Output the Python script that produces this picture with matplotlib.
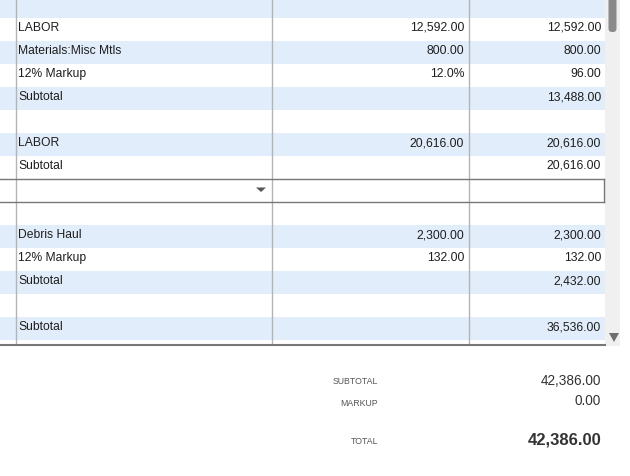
import matplotlib.pyplot as plt
from matplotlib.patches import Rectangle, FancyBboxPatch, Polygon

plt.rcParams['font.family'] = ['Arial', 'Liberation Sans', 'DejaVu Sans']

# table rows: description, quantity/rate column, amount column
descriptions = ["", "LABOR", "Materials:Misc Mtls", "12% Markup", "Subtotal", "",
                "LABOR", "Subtotal", "", "",
                "Debris Haul", "12% Markup", "Subtotal", "", "Subtotal"]
rates = ["", "12,592.00", "800.00", "12.0%", "", "",
         "20,616.00", "", "", "",
         "2,300.00", "132.00", "", "", ""]
amounts = ["", "12,592.00", "800.00", "96.00", "13,488.00", "",
           "20,616.00", "20,616.00", "", "",
           "2,300.00", "132.00", "2,432.00", "", "36,536.00"]
selected_row = 8

# totals block
total_labels = ["SUBTOTAL", "MARKUP", "TOTAL"]
total_values = ["42,386.00", "0.00", "42,386.00"]

W, H = 630, 476
fig = plt.figure(figsize=(W / 100, H / 100), dpi=100)
ax = fig.add_axes([0, 0, 1, 1])
ax.set_xlim(0, W)
ax.set_ylim(H, 0)
ax.axis("off")

row_h = 23
first_bottom = 18
table_right = 605
col_lines = [16, 272, 469]
stripe = "#e2edfb"
grid = "#b4b4b4"
text_col = "#1e1e1e"

for i, (d, r, a) in enumerate(zip(descriptions, rates, amounts)):
    top = first_bottom + (i - 1) * row_h
    if i % 2 == 0 and i != selected_row:
        ax.add_patch(Rectangle((0, top), table_right, row_h, color=stripe, lw=0))
    yc = top + row_h / 2 - 1.5
    ax.text(18, yc, d, fontsize=8.7, color=text_col, va="center", ha="left")
    ax.text(464, yc, r, fontsize=8.7, color=text_col, va="center", ha="right")
    ax.text(601, yc, a, fontsize=8.7, color=text_col, va="center", ha="right")

table_bottom = first_bottom + 14 * row_h
for x in col_lines:
    ax.plot([x, x], [0, table_bottom + 3], color=grid, lw=1)

# selected row border (top, bottom and right edge only)
sel_top = first_bottom + (selected_row - 1) * row_h
sel_bot = sel_top + row_h
ax.plot([0, table_right - 1], [sel_top, sel_top], color="#777777", lw=1)
ax.plot([0, table_right - 1], [sel_bot, sel_bot], color="#777777", lw=1)
ax.plot([table_right - 1, table_right - 1], [sel_top, sel_bot], color="#777777", lw=1)
ax.add_patch(Polygon([[256, sel_top + 8.5], [266, sel_top + 8.5], [261, sel_top + 13]],
                     color="#555555", lw=0))

# bottom border of table
ax.plot([0, table_right], [345, 345], color="#777777", lw=1.5)

# scrollbar
ax.add_patch(Rectangle((table_right, 0), 15, 346, color="#f0f0f0", lw=0))
ax.add_patch(FancyBboxPatch((608.5, -5), 8, 37, boxstyle="round,pad=0,rounding_size=3.5",
                            color="#8a8a8a", lw=0))
ax.add_patch(Polygon([[609, 333], [619, 333], [614, 342]], color="#6e6e6e", lw=0))

# totals
label_y = [382, 403, 441]
value_y = [381, 401, 440]
value_size = [9.8, 9.8, 12.0]
for lab, val, ly, vy, vs in zip(total_labels, total_values, label_y, value_y, value_size):
    ax.text(378, ly, lab, fontsize=6.3, color="#555555", ha="right", va="center")
    ax.text(601, vy, val, fontsize=vs, color="#333333", ha="right", va="center",
            fontweight="bold" if lab == "TOTAL" else "normal")

fig.savefig("out.png", dpi=100)
